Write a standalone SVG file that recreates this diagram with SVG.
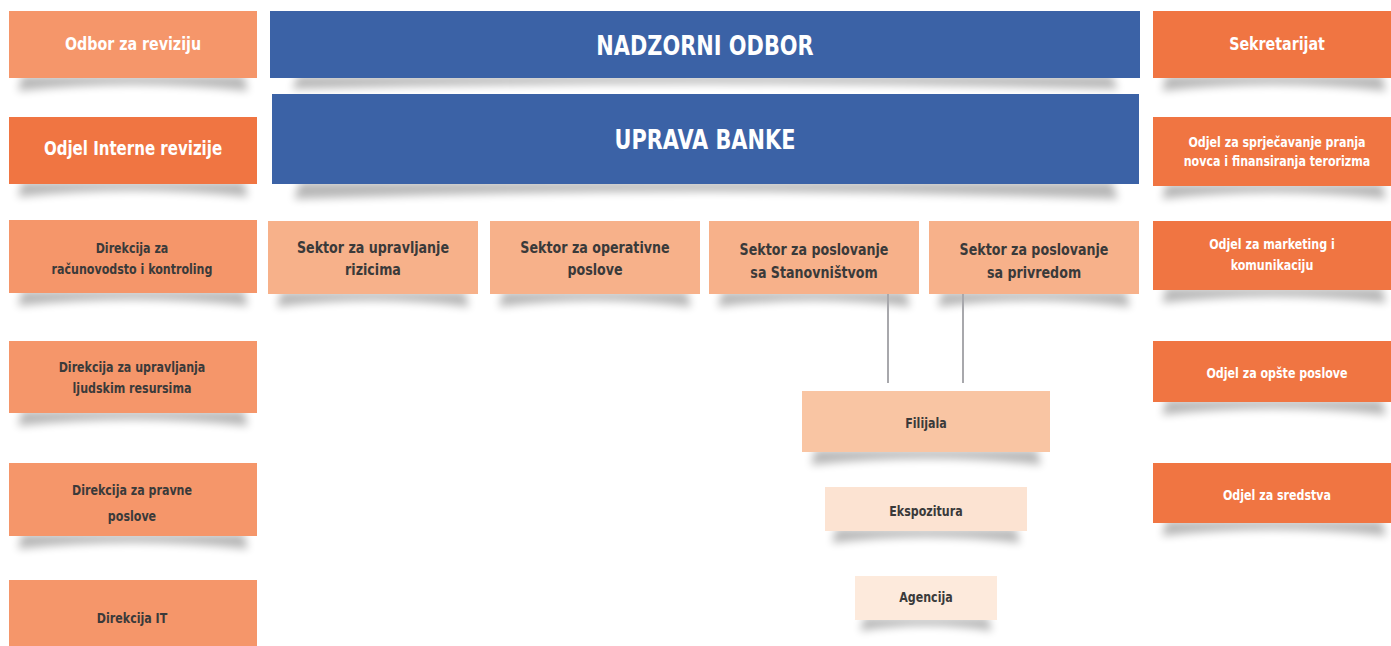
<svg xmlns="http://www.w3.org/2000/svg" width="1391" height="646" viewBox="0 0 1391 646">
<style>
text{font-family:"Liberation Sans Narrow","DejaVu Sans Condensed","Roboto Condensed",sans-serif;font-stretch:condensed;font-weight:bold;text-anchor:middle;transform-box:fill-box;transform-origin:center;transform:scaleX(0.88)}
.w{fill:#fff}
.d{fill:#3a3a3a}
.t{transform:scaleX(0.86)}
.blue{fill:#3b62a6}
.lo{fill:#f5966a}
.do{fill:#f07542}
.sec{fill:#f7b18a}
.fil{fill:#f9c5a3}
.eks{fill:#fce3d2}
.age{fill:#fdeadc}
.sh{fill:#000;opacity:0.28;filter:url(#blur)}
.conn line{stroke:#a8a8ac;stroke-width:2}
</style>
<defs>
<filter id="blur" x="-10%" y="-150%" width="120%" height="400%"><feGaussianBlur stdDeviation="4"/></filter>
</defs>
<rect width="1391" height="646" fill="#fff"/>
<g id="shadows">
<path class="sh" d="M22 76 H244 L248 91 Q133 78 18 91 Z"/>
<path class="sh" d="M22 182 H244 L248 197 Q133 184 18 197 Z"/>
<path class="sh" d="M22 291 H244 L248 306 Q133 293 18 306 Z"/>
<path class="sh" d="M22 411 H244 L248 426 Q133 413 18 426 Z"/>
<path class="sh" d="M22 534 H244 L248 549 Q133 536 18 549 Z"/>
<path class="sh" d="M1166 76 H1382 L1386 91 Q1272 78 1162 91 Z"/>
<path class="sh" d="M1166 184 H1382 L1386 199 Q1272 186 1162 199 Z"/>
<path class="sh" d="M1166 288 H1382 L1386 303 Q1272 290 1162 303 Z"/>
<path class="sh" d="M1166 400 H1382 L1386 415 Q1272 402 1162 415 Z"/>
<path class="sh" d="M1166 521 H1382 L1386 536 Q1272 523 1162 536 Z"/>
<path class="sh" d="M298 76 H1112 L1118 89 Q705 78 292 89 Z"/>
<path class="sh" d="M300 182 H1112 L1118 199 Q705 184 294 199 Z"/>
<path class="sh" d="M281 292 H465 L469 307 Q373 294 277 307 Z"/>
<path class="sh" d="M503 292 H687 L691 307 Q595 294 499 307 Z"/>
<path class="sh" d="M722 292 H906 L910 307 Q814 294 718 307 Z"/>
<path class="sh" d="M942 292 H1126 L1130 307 Q1034 294 938 307 Z"/>
<path class="sh" d="M815 450 H1037 L1041 465 Q926 452 811 465 Z"/>
<path class="sh" d="M836 529 H1016 L1020 543 Q926 531 832 543 Z"/>
<path class="sh" d="M864 618 H988 L992 631 Q926 620 860 631 Z"/>
</g>
<g class="conn" id="connectors">
<line x1="888" y1="288" x2="888" y2="383"/>
<line x1="963" y1="288" x2="963" y2="383"/>
</g>
<g id="n-odbor-revizija"><rect class="lo" x="9" y="11" width="248" height="67"/><text class="w" x="133" y="50" font-size="18">Odbor za reviziju</text></g>
<g id="n-interna-revizija"><rect class="do" x="9" y="117" width="248" height="67"/><text class="w" x="133" y="155" font-size="19">Odjel Interne revizije</text></g>
<g id="n-racunovodstvo"><rect class="lo" x="9" y="220" width="248" height="73"/><text class="d" x="132" y="253" font-size="14">Direkcija za</text><text class="d" x="132" y="274" font-size="14">računovodsto  i kontroling</text></g>
<g id="n-ljudski"><rect class="lo" x="9" y="341" width="248" height="72"/><text class="d" x="132" y="372" font-size="14">Direkcija  za upravljanja</text><text class="d" x="132" y="393" font-size="14">ljudskim  resursima</text></g>
<g id="n-pravne"><rect class="lo" x="9" y="463" width="248" height="73"/><text class="d" x="132" y="495" font-size="14">Direkcija za pravne</text><text class="d" x="132" y="521" font-size="14">poslove</text></g>
<g id="n-it"><rect class="lo" x="9" y="580" width="248" height="66"/><text class="d" x="132" y="623" font-size="14">Direkcija IT</text></g>
<g id="n-nadzorni"><rect class="blue" x="270" y="11" width="870" height="67"/><text class="w t" x="705" y="55" font-size="27">NADZORNI ODBOR</text></g>
<g id="n-uprava"><rect class="blue" x="272" y="94" width="867" height="90"/><text class="w t" x="705" y="149" font-size="27">UPRAVA BANKE</text></g>
<g id="n-rizici"><rect class="sec" x="268" y="221" width="210" height="73"/><text class="d" x="373" y="253" font-size="16">Sektor za  upravljanje</text><text class="d" x="373" y="275" font-size="16">rizicima</text></g>
<g id="n-operativni"><rect class="sec" x="490" y="221" width="210" height="73"/><text class="d" x="595" y="253" font-size="16">Sektor za operativne</text><text class="d" x="595" y="275" font-size="16">poslove</text></g>
<g id="n-stanovnistvo"><rect class="sec" x="709" y="221" width="210" height="73"/><text class="d" x="814" y="255" font-size="16">Sektor za poslovanje</text><text class="d" x="814" y="278" font-size="16">sa Stanovništvom</text></g>
<g id="n-privreda"><rect class="sec" x="929" y="221" width="210" height="73"/><text class="d" x="1034" y="255" font-size="16">Sektor za poslovanje</text><text class="d" x="1034" y="278" font-size="16">sa privredom</text></g>
<g id="n-filijala"><rect class="fil" x="802" y="391" width="248" height="61"/><text class="d" x="926" y="428" font-size="14">Filijala</text></g>
<g id="n-ekspozitura"><rect class="eks" x="825" y="487" width="202" height="44"/><text class="d" x="926" y="516" font-size="14">Ekspozitura</text></g>
<g id="n-agencija"><rect class="age" x="855" y="576" width="142" height="44"/><text class="d" x="926" y="602" font-size="14">Agencija</text></g>
<g id="n-sekretarijat"><rect class="do" x="1153" y="11" width="238" height="67"/><text class="w" x="1277" y="50" font-size="18">Sekretarijat</text></g>
<g id="n-pranje"><rect class="do" x="1153" y="117" width="238" height="69"/><text class="w" x="1277" y="147" font-size="14">Odjel za sprječavanje pranja</text><text class="w" x="1277" y="166" font-size="14">novca i finansiranja terorizma</text></g>
<g id="n-marketing"><rect class="do" x="1153" y="221" width="238" height="69"/><text class="w" x="1272" y="249" font-size="14">Odjel  za marketing  i</text><text class="w" x="1272" y="270" font-size="14">komunikaciju</text></g>
<g id="n-opste"><rect class="do" x="1153" y="341" width="238" height="61"/><text class="w" x="1277" y="378" font-size="14">Odjel za opšte poslove</text></g>
<g id="n-sredstva"><rect class="do" x="1153" y="463" width="238" height="60"/><text class="w" x="1277" y="500" font-size="14">Odjel za sredstva</text></g>
</svg>
